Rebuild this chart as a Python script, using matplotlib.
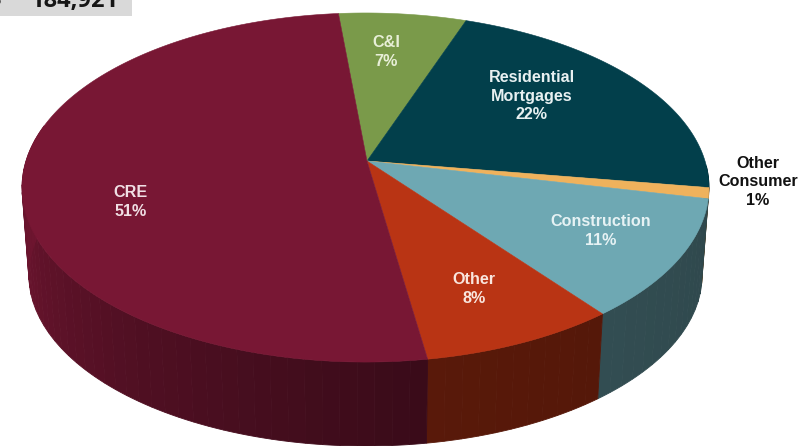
import numpy as np
import matplotlib
matplotlib.use("Agg")
import matplotlib.pyplot as plt
from matplotlib.patches import Polygon, Rectangle

# Loan portfolio mix, clockwise from the CRE / C&I boundary
categories = ["C&I", "Residential\nMortgages", "Other\nConsumer", "Construction", "Other", "CRE"]
shares = [7, 22, 1, 11, 8, 51]
total_label = "184,921"
colors = ["#7a9a4a", "#023f4b", "#efb25c", "#6ea8b3", "#b93414", "#781734"]
label_pos = [(386, 52), (532, 96), (758, 182), (601, 231), (474, 289), (131, 202)]
label_colors = ["#e8efd8", "#e8f0f1", "#111111", "#e6f2f4", "#f9e6de", "#f0dfe4"]

W, H = 798, 446
CX, CY = 365.5, 160    # projected disc centre
HUB = (367, 161)       # point where the slices meet
A, B, K = 339.2, 170.2, 0.1576   # perspective projection of the unit disc
DEPTH, BOTTOM_SCALE = 88, 0.98
START = -5.3


def project(deg, bottom=False):
    t = np.radians(deg)
    u, v = np.sin(t), -np.cos(t)
    s = BOTTOM_SCALE if bottom else 1.0
    d = DEPTH if bottom else 0.0
    w = 1 - K * v
    return CX + s * A * u / w, CY + d + s * B * v / w


def shade(hex_color, f):
    rgb = np.array(matplotlib.colors.to_rgb(hex_color))
    return tuple(rgb * f)


def side_factor(deg):
    # darkest near the front, lighter toward the left rim
    return np.interp(deg, [90, 172, 215, 250, 282], [0.42, 0.48, 0.66, 0.84, 0.95])


plt.rcParams["font.family"] = ["Liberation Sans", "DejaVu Sans"]
fig = plt.figure(figsize=(W / 100, H / 100), dpi=100)
ax = fig.add_axes([0, 0, 1, 1])
ax.set_xlim(0, W)
ax.set_ylim(H, 0)
ax.axis("off")

edges = START + np.cumsum([0] + shares) * 3.6

# Outer wall, built from narrow facets so the shading changes gradually
for i, col in enumerate(colors):
    lo, hi = max(edges[i], 92), min(edges[i + 1], 282)
    if hi <= lo:
        continue
    n = max(1, int((hi - lo) / 2.5))
    steps = np.linspace(lo, hi, n + 1)
    for a0, a1 in zip(steps[:-1], steps[1:]):
        ts = np.linspace(a0, a1, 4)
        xt, yt = project(ts)
        xb, yb = project(ts[::-1], bottom=True)
        c = shade(col, side_factor((a0 + a1) / 2))
        ax.add_patch(Polygon(np.c_[np.r_[xt, xb], np.r_[yt, yb]], fc=c, ec=c, lw=0.6))

# Top face of each slice
for i, col in enumerate(colors):
    ts = np.linspace(edges[i], edges[i + 1], max(4, int(shares[i] * 6)))
    xs, ys = project(ts)
    ax.add_patch(Polygon(np.c_[np.r_[HUB[0], xs], np.r_[HUB[1], ys]], fc=col, ec=col, lw=0.4, zorder=3))

for name, share, (x, y), c in zip(categories, shares, label_pos, label_colors):
    ax.text(x, y, f"{name}\n{share}%", ha="center", va="center", color=c,
            fontsize=11.6, fontweight="bold", linespacing=1.3, zorder=5)

# Total cell cut off at the top of the page
ax.add_patch(Rectangle((0, 0), 132, 16, fc="#d9d9d9", ec="none", zorder=4))
ax.text(75, 1.5, total_label, ha="center", va="center", color="#161616",
        fontsize=17, fontweight="bold", family=["Open Sans", "DejaVu Sans"], zorder=5)
ax.text(-5, 1.5, "$", ha="center", va="center", color="#161616",
        fontsize=17, fontweight="bold", family=["Open Sans", "DejaVu Sans"], zorder=5)

fig.savefig("out.png", dpi=100, facecolor="white")
